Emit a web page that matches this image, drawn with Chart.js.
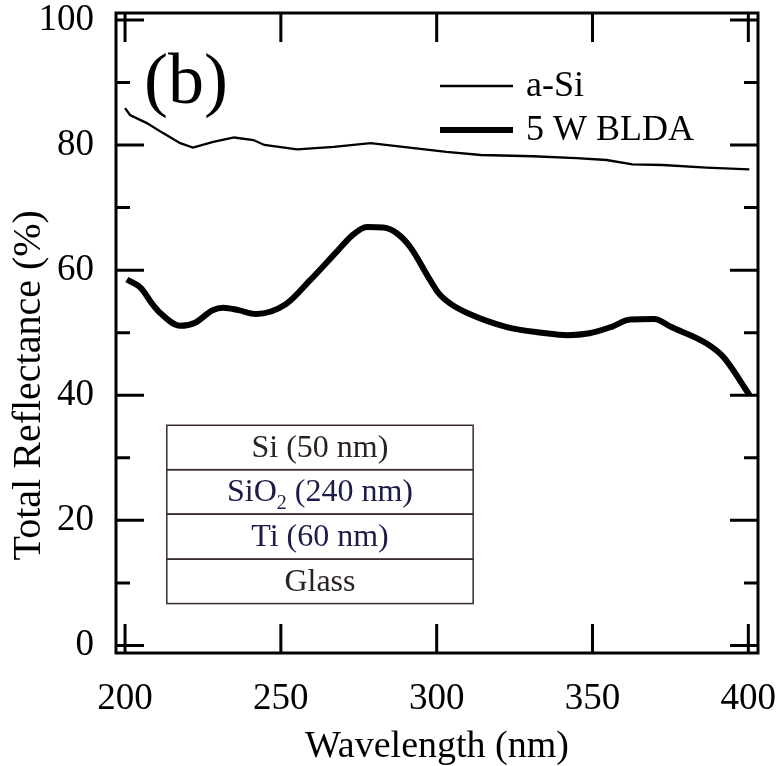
<!DOCTYPE html>
<html>
<head>
<meta charset="utf-8">
<script src="https://cdn.jsdelivr.net/npm/chart.js@4"></script>
<style>
  body { margin: 0; background: #fff; }
  #wrap { width: 778px; height: 766px; }
</style>
</head>
<body>
<div id="wrap"><canvas id="c" width="778" height="766"></canvas></div>
<script>
// wavelength (nm) / total reflectance (%)
const aSiWl = [200, 201.6, 207, 212.2, 217.7, 221.8, 228.3, 235, 241.2, 244.7, 255.2, 267, 278.8, 289.2, 303.1, 314.2, 330.9, 344.8, 354.5, 362.8, 372.5, 386.5, 400.3];
const aSiR  = [85.9, 84.8, 83.5, 81.9, 80.3, 79.6, 80.5, 81.2, 80.8, 80.0, 79.3, 79.7, 80.3, 79.7, 78.9, 78.4, 78.2, 77.9, 77.6, 76.9, 76.8, 76.4, 76.1];

const bldaWl = [200.6, 205.2, 208.6, 211.4, 217.7, 222.5, 228.1, 231.6, 236.4, 242, 251.7, 259.4, 268.4, 273, 277.6, 282.9, 287.2, 291.5, 297.9, 300.8, 304.5, 310, 322.5, 333.7, 342, 349, 355.9, 362.1, 369.8, 375.3, 386.5, 392, 400.4];
const bldaR  = [58.5, 57.1, 54.7, 53.1, 51.1, 51.6, 53.6, 54.0, 53.6, 53.0, 54.6, 58.4, 63.2, 65.6, 66.9, 66.8, 65.9, 63.7, 58.4, 56.2, 54.6, 53.1, 50.9, 50.0, 49.6, 49.9, 50.9, 52.1, 52.2, 50.9, 48.3, 46.1, 40.0];

const xTicks = [200, 250, 300, 350, 400];
const yTicks = [0, 20, 40, 60, 80, 100];
const yMinor = [10, 30, 50, 70, 90];

const seriesNames = ['a-Si', '5 W BLDA'];
const yTitle = 'Total Reflectance (%)';
const layers = ['Si (50 nm)', 'SiO|2| (240 nm)', 'Ti (60 nm)', 'Glass'];
// inset box, in data units
const insetX = [213.4, 311.7];
const insetY = [35.2, 28.1, 21.0, 13.8, 6.7];

const FONT = '"Liberation Serif", "Times New Roman", serif';

const frame = {
  id: 'frame',
  afterDatasetsDraw(chart) {
    const ctx = chart.ctx;
    const a = chart.chartArea;
    const xs = chart.scales.x, ys = chart.scales.y;
    ctx.save();
    ctx.strokeStyle = '#000';
    ctx.lineWidth = 3;
    ctx.strokeRect(a.left, a.top, a.right - a.left, a.bottom - a.top);
    ctx.beginPath();
    xTicks.forEach(v => {
      const px = xs.getPixelForValue(v);
      ctx.moveTo(px, a.bottom); ctx.lineTo(px, a.bottom - 29);
      ctx.moveTo(px, a.top); ctx.lineTo(px, a.top + 29);
    });
    yTicks.forEach(v => {
      const py = ys.getPixelForValue(v);
      ctx.moveTo(a.left, py); ctx.lineTo(a.left + 28, py);
      ctx.moveTo(a.right, py); ctx.lineTo(a.right - 28, py);
    });
    yMinor.forEach(v => {
      const py = ys.getPixelForValue(v);
      ctx.moveTo(a.left, py); ctx.lineTo(a.left + 14, py);
      ctx.moveTo(a.right, py); ctx.lineTo(a.right - 14, py);
    });
    ctx.stroke();

    // y axis title, sits a little below the axis centre in the original
    ctx.fillStyle = '#000';
    ctx.save();
    ctx.translate(29, ys.getPixelForValue(41.6));
    ctx.rotate(-Math.PI / 2);
    ctx.font = '40px ' + FONT;
    ctx.textAlign = 'center';
    ctx.textBaseline = 'middle';
    ctx.fillText(yTitle, 0, 0);
    ctx.restore();

    // panel label
    ctx.font = '72px ' + FONT;
    ctx.textBaseline = 'alphabetic';
    ctx.fillText('(b)', a.left + 28, a.top + 90);

    // legend
    const lx0 = 440, lx1 = 513;
    ctx.font = '36px ' + FONT;
    ctx.textBaseline = 'middle';
    [[2.3, 86], [6, 130]].forEach((s, i) => {
      ctx.lineWidth = s[0];
      ctx.beginPath(); ctx.moveTo(lx0, s[1]); ctx.lineTo(lx1, s[1]); ctx.stroke();
      ctx.fillText(seriesNames[i], 526, s[1] + 1);
    });

    // layer stack inset
    const bx0 = xs.getPixelForValue(insetX[0]), bx1 = xs.getPixelForValue(insetX[1]);
    ctx.strokeStyle = '#3a2b2b';
    ctx.lineWidth = 1.5;
    layers.forEach((t, i) => {
      const y0 = ys.getPixelForValue(insetY[i]), y1 = ys.getPixelForValue(insetY[i + 1]);
      ctx.strokeRect(bx0, y0, bx1 - bx0, y1 - y0);
      ctx.fillStyle = i === 1 || i === 2 ? '#1c1c48' : '#2a2222';
      const cy = (y0 + y1) / 2 + 1;
      const cx = (bx0 + bx1) / 2;
      ctx.font = '32px ' + FONT;
      if (t.includes('|')) {
        const [p0, sub, p1] = t.split('|');
        const w0 = ctx.measureText(p0).width, w2 = ctx.measureText(p1).width;
        ctx.font = '20px ' + FONT;
        const w1 = ctx.measureText(sub).width;
        let x = cx - (w0 + w1 + w2) / 2;
        ctx.textAlign = 'left';
        ctx.font = '32px ' + FONT;
        ctx.fillText(p0, x, cy); x += w0;
        ctx.font = '20px ' + FONT;
        ctx.fillText(sub, x, cy + 11); x += w1;
        ctx.font = '32px ' + FONT;
        ctx.fillText(p1, x, cy);
      } else {
        ctx.textAlign = 'center';
        ctx.fillText(t, cx, cy);
      }
    });
    ctx.restore();
  }
};

new Chart(document.getElementById('c'), {
  type: 'scatter',
  data: {
    datasets: [
      {
        label: seriesNames[0],
        data: aSiWl.map((w, i) => ({ x: w, y: aSiR[i] })),
        showLine: true,
        borderColor: '#000',
        borderWidth: 2.3,
        pointRadius: 0,
        tension: 0
      },
      {
        label: seriesNames[1],
        data: bldaWl.map((w, i) => ({ x: w, y: bldaR[i] })),
        showLine: true,
        borderColor: '#000',
        borderWidth: 6,
        pointRadius: 0,
        cubicInterpolationMode: 'monotone'
      }
    ]
  },
  options: {
    responsive: false,
    animation: false,
    layout: { padding: { top: 13, right: 20, left: 0, bottom: 0 } },
    plugins: { legend: { display: false }, tooltip: { enabled: false } },
    scales: {
      x: {
        type: 'linear',
        min: 197.1,
        max: 403.1,
        afterBuildTicks: s => { s.ticks = xTicks.map(v => ({ value: v })); },
        afterFit: s => { s.height = 113; s.paddingLeft = 0; s.paddingRight = 0; },
        grid: { display: false },
        border: { display: false },
        ticks: { color: '#000', padding: 16, maxRotation: 0, font: { family: FONT, size: 37 } },
        title: { display: true, text: 'Wavelength (nm)', color: '#000', padding: { top: 0, bottom: -4 }, font: { family: FONT, size: 38 } }
      },
      y: {
        type: 'linear',
        min: -1.2,
        max: 101.1,
        afterBuildTicks: s => { s.ticks = yTicks.map(v => ({ value: v })); },
        afterFit: s => { s.width = 116; s.paddingTop = 0; s.paddingBottom = 0; },
        grid: { display: false },
        border: { display: false },
        ticks: { color: '#000', padding: 14, font: { family: FONT, size: 37 } },
        title: { display: false }
      }
    }
  },
  plugins: [frame]
});
</script>
</body>
</html>
